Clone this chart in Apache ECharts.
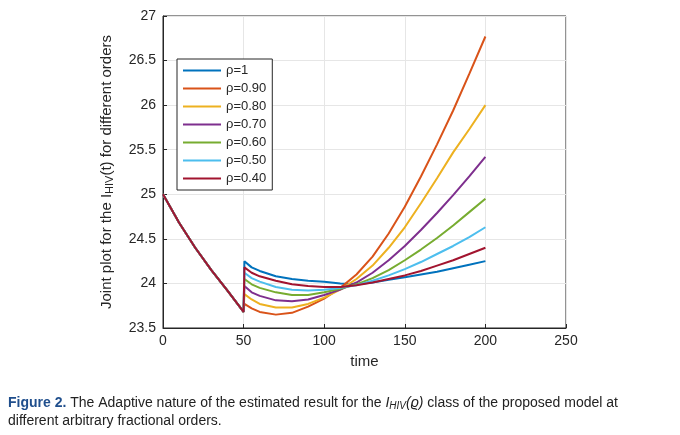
<!DOCTYPE html>
<html><head><meta charset="utf-8">
<script src="https://cdn.jsdelivr.net/npm/echarts@6/dist/echarts.min.js"></script>
<style>html,body{margin:0;padding:0;background:#fff}#main{width:680px;height:435px}</style>
</head><body><div id="main"></div>
<script>
// shared part before the switch at t=50
let tHead = [0, 10, 20, 30, 40, 50];
let vHead = [25, 24.68, 24.4, 24.15, 23.92, 23.68];
// after the switch
let tTail = [50.5, 55, 60, 70, 80, 90, 100, 110, 120, 130, 140, 150, 160, 170, 180, 190, 200];
let names = ['ρ=1', 'ρ=0.90', 'ρ=0.80', 'ρ=0.70', 'ρ=0.60', 'ρ=0.50', 'ρ=0.40'];
let colors = ['#0072bd', '#d95319', '#edb120', '#7e2f8e', '#77ac30', '#4dbeee', '#a2142f'];
let rho100 = [24.25, 24.18, 24.14, 24.08, 24.05, 24.03, 24.02, 24.0, 23.99, 24.01, 24.04, 24.07, 24.1, 24.13, 24.17, 24.21, 24.25];
let rho090 = [23.77, 23.72, 23.68, 23.65, 23.67, 23.74, 23.83, 23.95, 24.1, 24.3, 24.56, 24.86, 25.2, 25.56, 25.94, 26.35, 26.77];
let rho080 = [23.88, 23.82, 23.77, 23.73, 23.73, 23.77, 23.84, 23.93, 24.05, 24.2, 24.4, 24.63, 24.9, 25.18, 25.47, 25.73, 26.0];
let rho070 = [23.97, 23.9, 23.86, 23.81, 23.8, 23.82, 23.87, 23.93, 24.01, 24.12, 24.26, 24.42, 24.6, 24.79, 24.99, 25.2, 25.42];
let rho060 = [24.05, 23.99, 23.95, 23.9, 23.87, 23.87, 23.9, 23.94, 23.99, 24.06, 24.15, 24.26, 24.38, 24.51, 24.65, 24.8, 24.95];
let rho050 = [24.12, 24.06, 24.02, 23.96, 23.93, 23.92, 23.93, 23.95, 23.98, 24.03, 24.09, 24.16, 24.24, 24.33, 24.42, 24.52, 24.63];
let rho040 = [24.18, 24.12, 24.08, 24.03, 23.99, 23.97, 23.96, 23.96, 23.98, 24.01, 24.05, 24.09, 24.14, 24.2, 24.26, 24.33, 24.4];
let tails = [rho100, rho090, rho080, rho070, rho060, rho050, rho040];

let chart = echarts.init(document.getElementById('main'));
let font = 'Liberation Sans, Arial, sans-serif';
let series = tails.map(function (tail, i) {
  let pts = tHead.map(function (t, k) { return [t, vHead[k]]; });
  tTail.forEach(function (t, k) { pts.push([t, tail[k]]); });
  return {
    name: names[i], type: 'line', data: pts, showSymbol: false, smooth: false,
    lineStyle: { width: 2, color: colors[i] }, itemStyle: { color: colors[i] }
  };
});

chart.setOption({
  animation: false,
  textStyle: { fontFamily: font },
  grid: { left: 163, right: 114, top: 16, bottom: 107, show: true, borderColor: '#262626', borderWidth: 1 },
  legend: {
    orient: 'vertical', left: 177, top: 59, itemWidth: 38, itemHeight: 2, itemGap: 5,
    backgroundColor: '#fff', borderColor: '#262626', borderWidth: 1, padding: [5, 6, 5, 6],
    textStyle: { fontSize: 13, color: '#262626' },
    data: names.map(function (n, i) { return { name: n, icon: 'rect', itemStyle: { color: colors[i] } }; })
  },
  xAxis: {
    type: 'value', min: 0, max: 250, interval: 50,
    name: 'time', nameLocation: 'middle', nameGap: 26, nameTextStyle: { fontSize: 15, color: '#262626' },
    axisLine: { lineStyle: { color: '#262626' } }, axisTick: { inside: true, length: 4 },
    axisLabel: { fontSize: 14, color: '#262626', margin: 6 },
    splitLine: { lineStyle: { color: '#e6e6e6' } }
  },
  yAxis: {
    type: 'value', min: 23.5, max: 27, interval: 0.5,
    name: '{n|Joint plot for the I}{s|HIV}{n|(t) for different orders}', nameLocation: 'middle', nameGap: 48,
    nameTextStyle: { rich: { n: { fontSize: 15, color: '#262626' }, s: { fontSize: 11, color: '#262626', verticalAlign: 'bottom', padding: [6, 0, 0, 0] } } },
    axisLine: { show: true, lineStyle: { color: '#262626' } }, axisTick: { show: true, inside: true, length: 4 },
    axisLabel: { fontSize: 14, color: '#262626', margin: 7 },
    splitLine: { lineStyle: { color: '#e6e6e6' } }
  },
  graphic: [{
    type: 'text', left: 8, top: 394,
    style: {
      text: '{b|Figure 2.} The Adaptive nature of the estimated result for the {i|I}{is|HIV}{i|(ϱ)} class of the proposed model at\ndifferent arbitrary fractional orders.',
      fontSize: 14, fill: '#222', lineHeight: 18, fontFamily: font,
      rich: { b: { fontWeight: 'bold', fill: '#1f4e8c', fontSize: 14 }, i: { fontStyle: 'italic', fontSize: 14 }, is: { fontStyle: 'italic', fontSize: 10, padding: [6, 0, 0, 0] } }
    }
  }],
  series: series
});
</script></body></html>
